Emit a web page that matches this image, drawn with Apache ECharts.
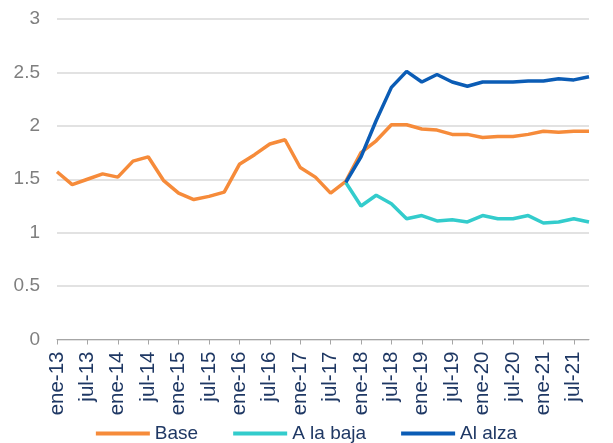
<!DOCTYPE html>
<html>
<head>
<meta charset="utf-8">
<script src="https://cdn.jsdelivr.net/npm/echarts@6/dist/echarts.min.js"></script>
<style>
  html, body { margin: 0; padding: 0; background: #fff; }
  #chart { width: 613px; height: 443px; }
</style>
</head>
<body>
<div id="chart"></div>
<script>
// trimestres ene-13 .. oct-21
var quarters = [
  'ene-13','abr-13','jul-13','oct-13','ene-14','abr-14','jul-14','oct-14',
  'ene-15','abr-15','jul-15','oct-15','ene-16','abr-16','jul-16','oct-16',
  'ene-17','abr-17','jul-17','oct-17','ene-18','abr-18','jul-18','oct-18',
  'ene-19','abr-19','jul-19','oct-19','ene-20','abr-20','jul-20','oct-20',
  'ene-21','abr-21','jul-21','oct-21'
];

var base = [
  1.57, 1.45, 1.50, 1.55, 1.52, 1.67, 1.71, 1.49,
  1.37, 1.31, 1.34, 1.38, 1.64, 1.73, 1.83, 1.87,
  1.61, 1.52, 1.37, 1.48, 1.75, 1.86, 2.01, 2.01,
  1.97, 1.96, 1.92, 1.92, 1.89, 1.90, 1.90, 1.92,
  1.95, 1.94, 1.95, 1.95
];

var baja = [
  null, null, null, null, null, null, null, null,
  null, null, null, null, null, null, null, null,
  null, null, null, 1.47, 1.25, 1.35, 1.27, 1.13,
  1.16, 1.11, 1.12, 1.10, 1.16, 1.13, 1.13, 1.16,
  1.09, 1.10, 1.13, 1.10
];

var alza = [
  null, null, null, null, null, null, null, null,
  null, null, null, null, null, null, null, null,
  null, null, null, 1.47, 1.71, 2.05, 2.36, 2.51,
  2.41, 2.48, 2.41, 2.37, 2.41, 2.41, 2.41, 2.42,
  2.42, 2.44, 2.43, 2.46
];

var yTicks = { min: 0, max: 3, step: 0.5 };

var navy = '#1f3864';
var grey = '#7f7f7f';
var fontFam = '"Liberation Sans", Arial, sans-serif';

var chart = echarts.init(document.getElementById('chart'), null, { renderer: 'canvas' });

function lineSeries(name, data, color) {
  return {
    name: name,
    type: 'line',
    data: data,
    symbol: 'none',
    showSymbol: false,
    connectNulls: false,
    lineStyle: { color: color, width: 3.5 },
    itemStyle: { color: color },
    animation: false
  };
}

chart.setOption({
  animation: false,
  textStyle: { fontFamily: fontFam },
  grid: { left: 57, right: 24, top: 19, bottom: 103.5, containLabel: false },
  legend: {
    top: 419,
    left: 'center',
    itemWidth: 54,
    itemHeight: 4,
    itemGap: 35,
    icon: 'rect',
    textStyle: { color: navy, fontSize: 19, fontFamily: fontFam },
    data: ['Base', 'A la baja', 'Al alza']
  },
  xAxis: {
    type: 'category',
    data: quarters,
    boundaryGap: false,
    axisLine: { lineStyle: { color: '#a6a6a6', width: 1 } },
    axisTick: { show: true, interval: 1, length: 5, lineStyle: { color: '#a6a6a6' } },
    axisLabel: {
      interval: 1,
      rotate: 90,
      color: navy,
      fontSize: 20.5,
      fontFamily: fontFam,
      margin: 12
    },
    splitLine: { show: false }
  },
  yAxis: {
    type: 'value',
    min: yTicks.min,
    max: yTicks.max,
    interval: yTicks.step,
    axisLine: { show: false },
    axisTick: { show: false },
    axisLabel: { color: grey, fontSize: 19, fontFamily: fontFam, margin: 17 },
    splitLine: { lineStyle: { color: '#d9d9d9', width: 1.5 } }
  },
  series: [
    lineSeries('Base', base, '#f68b3a'),
    lineSeries('A la baja', baja, '#33cccc'),
    lineSeries('Al alza', alza, '#0b5cb5')
  ]
});
</script>
</body>
</html>
